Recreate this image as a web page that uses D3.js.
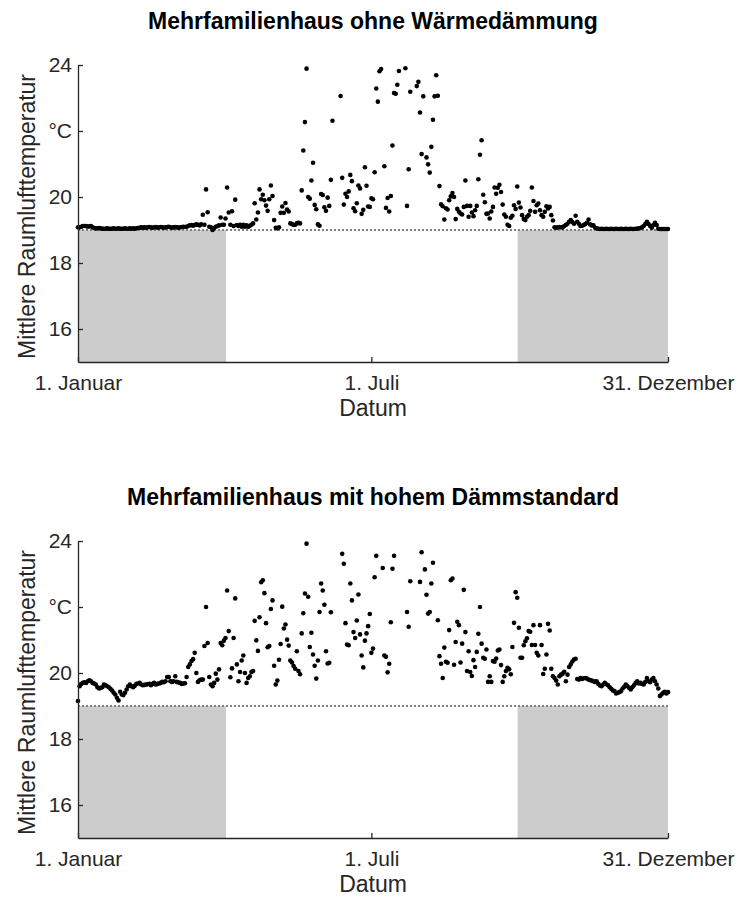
<!DOCTYPE html>
<html><head><meta charset="utf-8">
<script src="https://cdn.jsdelivr.net/npm/d3@7"></script>
<style>
html,body{margin:0;padding:0;background:#fff;}
svg{display:block;font-family:"Liberation Sans",Arial,Helvetica,sans-serif;}
</style></head>
<body><svg id="chart" width="736" height="898"></svg>
<script>
// ---- data ----
const titles = ["Mehrfamilienhaus ohne Wärmedämmung", "Mehrfamilienhaus mit hohem Dämmstandard"];
const xTickDays = [0, 181, 364];
const xTickLabels = ["1. Januar", "1. Juli", "31. Dezember"];
const yTicks = [16, 18, 20, 22, 24];
const yTickLabels = ["16", "18", "20", "°C", "24"];
const yDomain = [15, 24];
const setpoint = 19;
const heatingPeriods = [[0, 91.3], [271.2, 364]];
const xLabel = "Datum";
const yLabel = "Mittlere Raumlufttemperatur";

// daily mean room air temperature, day 0 = 1 January (values above 24 lie outside the axis)
const tempUnsanitized = [
19.08,19.08,19.10,19.12,19.12,19.12,19.10,19.11,19.12,19.08,
19.06,19.05,19.05,19.06,19.05,19.04,19.04,19.04,19.05,19.04,
19.04,19.04,19.05,19.04,19.04,19.05,19.04,19.04,19.04,19.05,
19.04,19.04,19.05,19.04,19.05,19.04,19.05,19.06,19.07,19.08,
19.07,19.08,19.07,19.08,19.09,19.08,19.07,19.08,19.09,19.07,
19.08,19.09,19.08,19.07,19.08,19.09,19.10,19.08,19.07,19.08,
19.09,19.08,19.07,19.08,19.09,19.10,19.09,19.10,19.12,19.14,
19.15,19.13,19.15,19.17,19.16,19.14,19.17,19.46,19.16,20.23,
19.54,19.10,19.08,19.00,19.06,19.10,19.12,19.14,19.38,19.16,
19.16,19.35,20.29,19.53,19.16,19.57,19.12,19.92,19.15,19.12,
19.16,19.10,19.16,19.10,19.14,19.10,19.13,19.16,19.20,19.81,
19.32,19.53,20.23,19.93,20.07,19.90,19.74,19.58,19.93,20.35,
20.03,19.30,19.07,19.05,19.08,19.52,19.71,19.52,19.82,19.62,
19.56,19.20,19.18,19.15,19.16,19.20,19.22,19.20,20.20,21.41,
22.27,23.89,20.00,19.95,20.50,21.04,19.76,19.63,19.17,19.13,
20.09,20.06,19.69,19.58,19.98,19.73,20.52,22.31,24.40,24.80,
24.30,24.60,23.06,20.58,19.77,20.10,20.00,20.17,20.67,20.48,
19.66,19.57,19.81,20.35,20.26,19.49,19.61,20.90,20.34,19.71,
19.70,19.96,19.93,20.75,23.29,22.89,23.81,23.88,24.20,20.93,
19.67,19.97,19.56,20.03,21.56,23.15,23.13,23.40,23.82,24.50,
24.30,24.70,23.90,19.73,20.84,23.19,24.40,24.20,24.60,23.36,
23.49,22.56,21.30,23.05,24.30,21.20,20.99,20.74,21.52,22.34,
23.05,23.69,23.07,20.33,19.78,19.72,19.32,19.66,19.62,19.90,
20.02,20.12,20.00,19.33,19.64,19.55,19.50,19.47,19.70,20.50,
19.73,19.40,19.73,19.53,19.42,19.60,19.73,20.54,21.28,21.72,
20.07,19.84,19.49,19.50,19.35,19.56,19.70,20.29,20.10,20.28,
20.37,20.15,19.77,19.47,19.40,19.16,19.12,19.37,19.43,19.75,
19.64,20.32,19.83,19.68,19.45,19.33,19.30,19.40,19.45,19.58,
20.29,19.88,19.55,19.75,19.80,19.60,19.45,19.40,19.55,19.72,
19.65,19.70,19.45,19.29,19.08,19.07,19.08,19.09,19.08,19.08,
19.12,19.15,19.19,19.25,19.30,19.24,19.19,19.43,19.25,19.19,
19.12,19.13,19.15,19.18,19.22,19.32,19.17,19.14,19.14,19.07,
19.05,19.04,19.03,19.04,19.03,19.03,19.04,19.03,19.03,19.04,
19.03,19.03,19.04,19.03,19.03,19.04,19.03,19.03,19.04,19.03,
19.03,19.04,19.03,19.03,19.04,19.04,19.05,19.06,19.08,19.12,
19.18,19.25,19.18,19.12,19.07,19.15,19.22,19.15,19.04,19.03,
19.03,19.03,19.03,19.03,19.03];

const tempInsulated = [
19.15,19.60,19.67,19.70,19.72,19.70,19.75,19.78,19.75,19.70,
19.68,19.65,19.57,19.53,19.55,19.57,19.65,19.63,19.60,19.57,
19.52,19.47,19.40,19.35,19.25,19.17,19.43,19.35,19.33,19.40,
19.50,19.60,19.65,19.60,19.57,19.61,19.67,19.68,19.70,19.65,
19.63,19.64,19.65,19.66,19.67,19.63,19.67,19.70,19.65,19.67,
19.68,19.70,19.73,19.72,19.75,19.88,19.88,19.75,19.73,19.75,
19.90,19.73,19.71,19.70,19.67,19.68,19.69,19.88,20.18,20.26,
20.36,20.42,20.61,20.00,19.73,19.78,19.80,19.80,20.82,22.00,
20.91,19.88,19.65,19.60,19.70,19.98,19.80,20.11,20.91,20.84,
20.98,21.06,22.50,21.27,19.87,20.14,21.06,22.26,20.26,19.75,
20.03,20.38,20.53,20.00,19.70,19.85,19.90,20.03,20.06,21.58,
20.99,20.67,21.69,22.75,22.81,22.42,21.51,20.78,20.82,21.94,
22.20,20.22,19.65,19.77,20.40,20.88,22.01,21.35,21.47,21.01,
20.83,20.38,20.32,20.21,20.13,20.66,20.06,19.96,21.20,21.81,
22.41,23.92,22.31,20.79,21.22,20.56,20.22,19.83,20.38,21.85,
22.71,22.50,22.07,20.66,20.29,20.31,21.84,24.40,24.70,24.30,
24.50,24.20,24.60,23.61,23.31,21.51,20.86,20.84,22.71,22.20,
21.24,21.06,21.59,22.38,21.17,20.53,20.17,20.98,21.20,21.42,
21.79,20.61,20.74,22.90,23.55,24.30,24.60,24.20,23.18,20.53,
20.49,20.02,20.28,21.54,23.16,23.55,24.40,24.20,24.70,24.30,
24.50,24.20,24.40,21.85,21.40,22.78,24.30,24.60,24.20,24.50,
24.30,22.76,23.66,24.40,23.14,22.37,21.80,21.85,22.71,23.34,
24.30,24.20,21.60,20.51,20.28,19.85,20.77,20.34,20.31,21.30,
22.81,22.86,20.25,20.94,21.55,21.45,20.32,20.89,22.52,21.24,
20.06,20.66,20.03,19.91,20.39,20.18,20.64,21.19,22.00,20.89,
20.46,20.43,20.71,19.73,19.90,19.73,20.36,20.34,20.44,20.68,
20.71,20.24,19.73,19.90,20.06,20.16,20.11,19.96,20.79,21.52,
22.45,22.28,21.37,20.46,20.46,20.84,20.96,21.05,21.27,21.25,
20.85,21.45,20.85,20.61,20.53,21.45,20.85,19.97,20.13,20.56,
21.49,21.29,20.13,19.90,19.85,19.77,19.65,19.90,19.95,19.98,
20.04,19.75,19.95,20.18,20.26,20.35,20.41,20.43,19.82,19.80,
19.85,19.82,19.84,19.85,19.83,19.80,19.78,19.77,19.75,19.73,
19.75,19.67,19.62,19.60,19.65,19.70,19.66,19.63,19.57,19.52,
19.47,19.45,19.38,19.40,19.42,19.45,19.53,19.58,19.65,19.60,
19.55,19.50,19.57,19.63,19.70,19.75,19.68,19.70,19.67,19.65,
19.73,19.85,19.75,19.72,19.80,19.85,19.75,19.65,19.53,19.30,
19.35,19.40,19.43,19.38,19.42];

const seriesList = [tempUnsanitized, tempInsulated];

// ---- layout ----
const W = 736, H = 898;
const plot = {left: 78, right: 668, top: 65, bottom: 362};
const panelOffsets = [0, 476];
const axisColor = "#262626";

const svg = d3.select("#chart");
const x = d3.scaleLinear().domain([0, 364]).range([plot.left, plot.right]);
const y = d3.scaleLinear().domain(yDomain).range([plot.bottom, plot.top]);

seriesList.forEach((vals, pi) => {
  const g = svg.append("g").attr("transform", `translate(0,${panelOffsets[pi]})`);

  // heating period shading (below setpoint)
  g.selectAll("rect.heat").data(heatingPeriods).join("rect")
    .attr("class", "heat")
    .attr("x", d => x(d[0])).attr("width", d => x(d[1]) - x(d[0]))
    .attr("y", y(setpoint)).attr("height", y(yDomain[0]) - y(setpoint))
    .attr("fill", "#cccccc");

  // setpoint dotted line
  g.append("line")
    .attr("x1", x(0)).attr("x2", x(364))
    .attr("y1", y(setpoint)).attr("y2", y(setpoint))
    .attr("stroke", "#808080").attr("stroke-width", 1.8)
    .attr("stroke-dasharray", "2,2");

  // points
  const pts = vals.map((v, i) => ({day: i, v})).filter(d => d.v <= yDomain[1] && d.v >= yDomain[0]);
  g.selectAll("circle").data(pts).join("circle")
    .attr("cx", d => x(d.day)).attr("cy", d => y(d.v))
    .attr("r", 2.3).attr("fill", "#000");

  // y axis
  const ya = d3.axisLeft(y).tickValues(yTicks)
    .tickFormat((d, i) => yTickLabels[i])
    .tickSizeInner(-5).tickSizeOuter(0).tickPadding(6);
  const yg = g.append("g").attr("transform", `translate(${plot.left},0)`).call(ya);
  yg.select(".domain").attr("stroke", axisColor).attr("stroke-width", 1.3);
  yg.selectAll(".tick line").attr("stroke", axisColor).attr("stroke-width", 1.3);
  yg.selectAll(".tick text").attr("fill", axisColor).style("font-size", "21px")
    .style("font-family", "'Liberation Sans',Arial,sans-serif");

  // x axis
  const xa = d3.axisBottom(x).tickValues(xTickDays)
    .tickFormat((d, i) => xTickLabels[i])
    .tickSizeInner(-5).tickSizeOuter(0).tickPadding(13);
  const xg = g.append("g").attr("transform", `translate(0,${plot.bottom})`).call(xa);
  xg.select(".domain").attr("stroke", axisColor).attr("stroke-width", 1.3);
  xg.selectAll(".tick line").attr("stroke", axisColor).attr("stroke-width", 1.3);
  xg.selectAll(".tick text").attr("fill", axisColor).style("font-size", "21px")
    .style("font-family", "'Liberation Sans',Arial,sans-serif");

  // labels
  g.append("text").attr("x", (plot.left + plot.right) / 2).attr("y", 416)
    .attr("text-anchor", "middle").attr("fill", axisColor)
    .style("font-size", "23px").text(xLabel);
  g.append("text")
    .attr("transform", `translate(35,${(plot.top + plot.bottom) / 2 + 3}) rotate(-90)`)
    .attr("text-anchor", "middle").attr("fill", axisColor)
    .style("font-size", "23px").text(yLabel);
  g.append("text").attr("x", (plot.left + plot.right) / 2).attr("y", 29)
    .attr("text-anchor", "middle").attr("fill", "#000")
    .style("font-size", "23px").style("font-weight", "bold").text(titles[pi]);
});
</script></body></html>
